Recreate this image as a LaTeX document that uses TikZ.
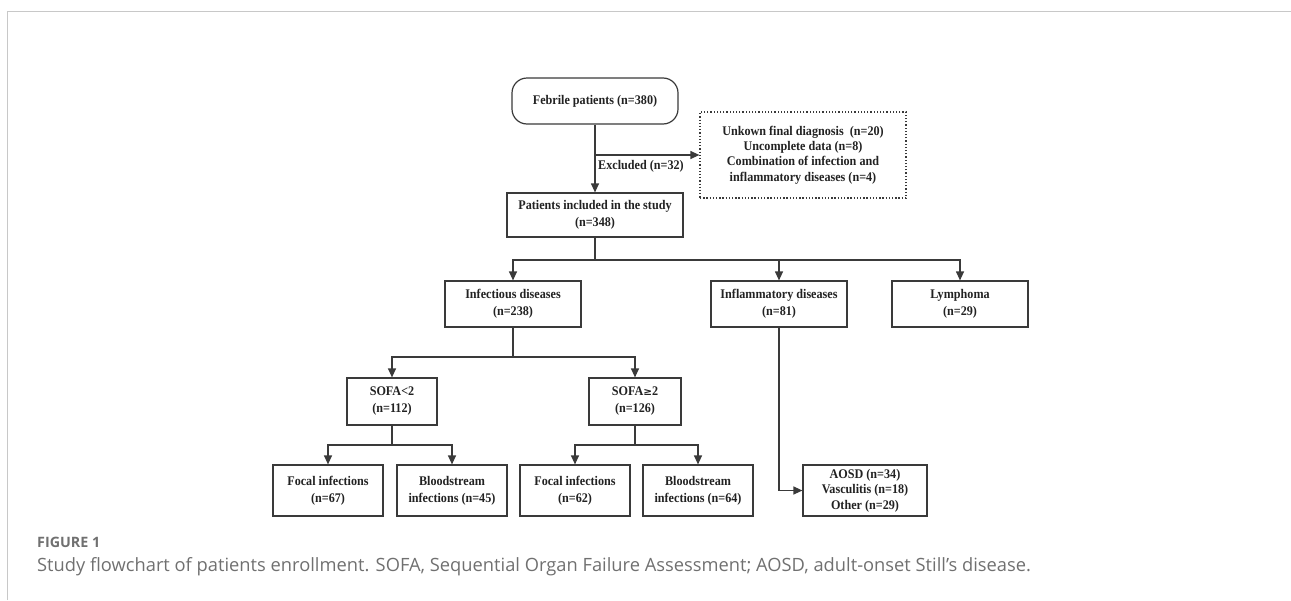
\documentclass[tikz,border=0pt]{standalone}
\usepackage{fontspec}
\setmainfont[FakeStretch=0.92]{Liberation Serif}
\newfontfamily\capfont{Open Sans}
\usetikzlibrary{arrows.meta}
\definecolor{linec}{HTML}{3A3A3A}
\definecolor{textc}{HTML}{222222}
\definecolor{capc}{HTML}{707070}
\definecolor{framec}{HTML}{C8C8C8}
\begin{document}
\begin{tikzpicture}[x=1pt,y=-1pt,
  box/.style={draw=linec, line width=1.2pt, fill=white, align=center,
    font=\fontsize{13.2}{17}\selectfont\bfseries, text=textc, inner sep=0pt},
  conn/.style={draw=linec, line width=1.2pt},
  arr/.style={conn, -{Triangle[length=9pt,width=8pt]}},
]
\useasboundingbox (0,0) rectangle (1291,600);
% frame
\coordinate (fa) at (7,600);
\coordinate (fb) at (7,11.5);
\coordinate (fc) at (1291,11.5);
\draw[framec, line width=0.9pt] (fa) -- (fb) -- (fc);

% nodes
\node[box, rounded corners=15pt, minimum width=166pt, minimum height=46pt] (feb) at (595,101) {Febrile patients (n=380)};
\node[box, draw=linec, dash pattern=on 1.3pt off 1.9pt, minimum width=206pt, minimum height=86pt,
  font=\fontsize{13.2}{15.3}\selectfont\bfseries] (excl) at (803,155)
  {Unkown final diagnosis\ \ (n=20)\\Uncomplete data (n=8)\\Combination of infection and\\inflammatory diseases (n=4)};
\node[box, minimum width=176pt, minimum height=44pt] (incl) at (595,215) {Patients included in the study\\(n=348)};
\node[box, minimum width=136pt, minimum height=46pt] (inf) at (513,304) {Infectious diseases\\(n=238)};
\node[box, minimum width=136pt, minimum height=46pt] (infl) at (779,304) {Inflammatory diseases\\(n=81)};
\node[box, minimum width=136pt, minimum height=46pt] (lym) at (960,304) {Lymphoma\\(n=29)};
\node[box, minimum width=90pt, minimum height=47pt] (sofa1) at (392,401.5) {SOFA{<}2\\(n=112)};
\node[box, minimum width=92pt, minimum height=47pt] (sofa2) at (635,401.5) {SOFA{\fontspec{DejaVu Serif}\bfseries\fontsize{10.5}{12}\selectfont ≥}2\\(n=126)};
\node[box, minimum width=110pt, minimum height=51pt] (f67) at (328,490.5) {Focal infections\\(n=67)};
\node[box, minimum width=110pt, minimum height=51pt] (b45) at (452,490.5) {Bloodstream\\infections (n=45)};
\node[box, minimum width=110pt, minimum height=51pt] (f62) at (575,490.5) {Focal infections\\(n=62)};
\node[box, minimum width=110pt, minimum height=51pt] (b64) at (698,490.5) {Bloodstream\\infections (n=64)};
\node[box, minimum width=124pt, minimum height=51pt, font=\fontsize{13.2}{15.5}\selectfont\bfseries] (aosd) at (865,490.5) {AOSD (n=34)\\Vasculitis (n=18)\\Other (n=29)};

% connectors
\draw[arr] (feb.south) -- (incl.north);
\draw[arr] (feb.south |- excl.west) -- (excl.west);
\node[anchor=base west, font=\fontsize{13.2}{14}\selectfont\bfseries, text=textc, inner sep=0pt] (exlbl) at (598,169.5) {Excluded (n=32)};

\coordinate (j1) at (595,260);
\draw[conn] (incl.south) -- (j1);
\draw[arr] (j1) -| (inf.north);
\draw[arr] (j1) -| (lym.north);
\draw[arr] (infl.north |- j1) -- (infl.north);

\coordinate (j2) at (513,357);
\draw[conn] (inf.south) -- (j2);
\draw[arr] (j2) -| (sofa1.north);
\draw[arr] (j2) -| (sofa2.north);

\coordinate (j3) at (392,445);
\draw[conn] (sofa1.south) -- (j3);
\draw[arr] (j3) -| (f67.north);
\draw[arr] (j3) -| (b45.north);

\coordinate (j4) at (635,445);
\draw[conn] (sofa2.south) -- (j4);
\draw[arr] (j4) -| (f62.north);
\draw[arr] (j4) -| (b64.north);

\draw[arr] (infl.south) |- (aosd.west);

% caption
\node[anchor=base west, inner sep=0pt, text=capc, font=\capfont\fontsize{14.3}{16}\selectfont\bfseries] (figlbl) at (37,547) {FIGURE 1};
\node[anchor=base west, inner sep=0pt, text=capc, font=\capfont\fontsize{18.3}{20}\selectfont] (cap) at (37,571) {Study flowchart of patients enrollment. SOFA, Sequential Organ Failure Assessment; AOSD, adult-onset Still’s disease.};
\end{tikzpicture}
\end{document}
